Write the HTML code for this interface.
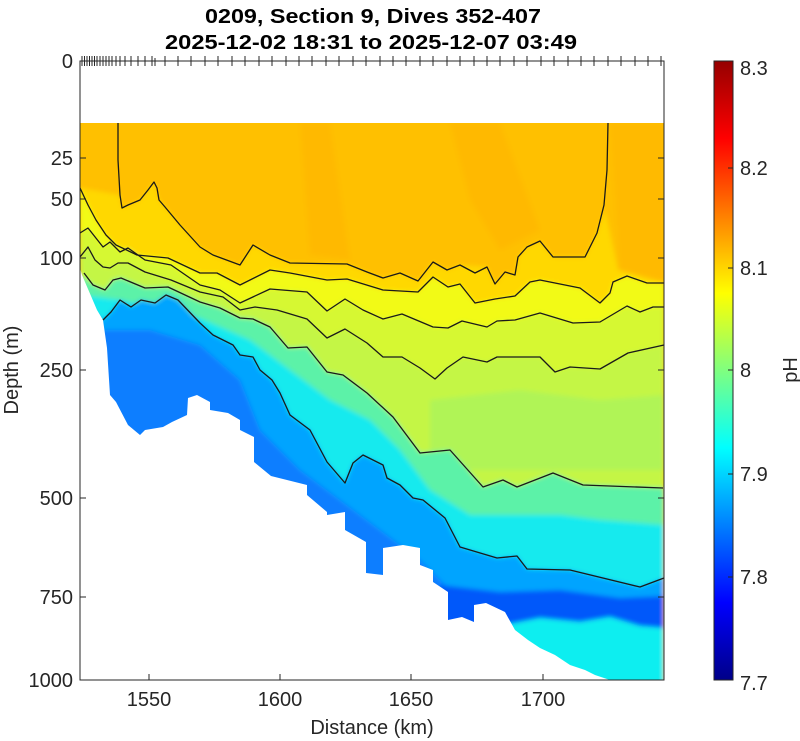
<!DOCTYPE html>
<html><head><meta charset="utf-8"><style>
html,body{margin:0;padding:0;background:#fff;}
svg{display:block;font-family:"Liberation Sans",Arial,sans-serif;}
</style></head><body>
<svg width="800" height="741" viewBox="0 0 800 741" xmlns="http://www.w3.org/2000/svg">
<defs>
<clipPath id="data"><polygon points="80,123 664,123 664,680 610,680 595,675 585,670 570,665 555,655 540,648 528,640 515,630 505,612 486,603 474,605 474,622 462,617 448,620 448,592 433,582 433,570 420,565 420,548 403,545 383,548 383,575 366,573 366,542 345,530 345,512 327,515 327,512 307,495 307,485 271,476 254,462 254,437 240,430 240,420 228,413 210,410 210,402 197,395 188,398 187,415 172,422 163,427 145,430 140,435 128,425 116,402 110,395 107,348 103,320 97,310 82,275 80,268"/></clipPath>
<filter id="bl" x="-5%" y="-5%" width="110%" height="110%"><feGaussianBlur stdDeviation="2.5"/></filter>
<linearGradient id="jet" x1="0" y1="1" x2="0" y2="0">
<stop offset="0" stop-color="#000088"/>
<stop offset="0.125" stop-color="#0000FF"/>
<stop offset="0.375" stop-color="#00FFFF"/>
<stop offset="0.625" stop-color="#FFFF00"/>
<stop offset="0.875" stop-color="#FF0000"/>
<stop offset="1" stop-color="#950000"/>
</linearGradient>
</defs>
<g clip-path="url(#data)">
<g filter="url(#bl)">
<rect x="70" y="110" width="610" height="600" fill="#FFC000"/>
<polygon fill="#FFB400" opacity="0.6" points="300,123 330,123 350,260 310,255"/>
<polygon fill="#FFB400" opacity="0.6" points="450,123 500,123 540,230 500,250 470,200"/>
<polygon fill="#FFB600" opacity="0.6" points="610,123 664,123 664,280 620,270"/>
<polygon fill="#FFD800" points="80,188 120,195 122,208 140,200 148,190 154,182 159,200 165,207 180,225 200,247 213,255 240,265 253,245 270,255 290,263 347,264 367,272 383,278 400,273 418,281 433,262 447,270 460,265 487,267 495,284 505,272 515,275 518,257 527,247 540,241 553,257 585,257 597,233 605,210 618,270 664,283 664,700 80,700"/>
<polygon fill="#F2FA14" points="80,188 88,205 96,220 106,235 116,245 137,255 168,258 200,273 217,273 240,285 270,270 290,273 327,280 347,279 383,290 418,292 433,277 448,287 460,284 475,303 495,299 515,296 530,282 540,280 580,288 600,303 610,293 613,282 627,276 647,283 664,283 664,700 80,700"/>
<polygon fill="#D6F832" points="80,233 88,228 103,247 110,242 120,252 128,248 145,260 171,265 200,285 220,290 240,303 270,289 307,292 327,311 345,299 363,310 383,319 402,314 433,327 448,328 462,321 487,327 497,321 515,320 540,313 573,323 600,322 627,306 640,312 653,307 664,307 664,700 80,700"/>
<polygon fill="#C4F645" points="80,257 88,247 95,260 103,267 110,268 118,263 128,263 145,272 171,280 200,292 223,297 240,310 255,307 277,310 307,319 327,338 345,329 367,343 383,357 402,357 420,368 435,379 447,368 463,357 487,362 497,357 540,357 555,372 570,367 600,369 628,353 664,345 664,700 80,700"/>
<polygon fill="#A8F460" opacity="0.7" points="430,400 520,390 600,400 664,395 664,470 430,470"/>
<polygon fill="#5CF2A8" points="80,275 93,285 105,290 113,280 121,278 145,288 168,287 200,302 220,308 240,318 253,319 270,327 288,348 307,347 327,372 343,375 367,393 393,417 420,453 450,450 483,487 503,480 517,487 553,473 583,485 663,488 664,488 664,700 80,700"/>
<polygon fill="#18EAEE" points="80,295 120,300 200,318 250,340 290,370 330,400 370,420 400,450 430,490 470,515 520,515 560,515 600,520 664,525 664,700 80,700"/>
<polygon fill="#00A4FF" points="80,300 103,320 111,312 120,300 131,307 141,300 155,303 166,295 178,300 200,323 213,335 233,345 240,355 253,357 260,370 272,380 280,393 290,415 310,430 327,462 345,483 353,463 363,455 383,465 387,478 400,485 413,498 423,500 445,518 460,547 497,558 517,556 527,569 570,570 640,587 664,578 664,700 80,700"/>
<polygon fill="#0A78FF" opacity="0.85" points="95,330 150,330 200,345 240,380 260,430 300,470 340,500 380,530 420,560 450,590 440,700 80,700"/>
<polygon fill="#0058FA" points="440,585 500,592 560,590 620,598 664,596 664,640 440,640"/>
<polygon fill="#0AEEF0" points="470,630 500,626 540,618 580,622 610,617 640,626 664,628 664,700 470,700"/>
</g>
</g>
<g fill="none" stroke="#1a1a1a" stroke-width="1.3" stroke-linejoin="round">
<polyline points="118,123 118,160 120,195 122,208 128,205 140,200 148,190 154,182 157,188 159,200 165,207 180,225 200,247 213,255 240,265 253,245 270,255 290,263 347,264 367,272 383,278 400,273 418,281 433,262 447,270 460,265 475,273 487,267 495,284 505,272 515,275 518,257 527,247 540,241 553,257 585,257 597,233 604,205 607,170 608,123"/>
<polyline points="80,188 88,205 96,220 106,235 116,245 137,255 168,258 200,273 217,273 240,285 270,270 290,273 327,280 347,279 383,290 418,292 433,277 448,287 460,284 475,303 495,299 515,296 530,282 540,280 580,288 600,303 610,293 613,282 627,276 647,283 664,283"/>
<polyline points="80,233 88,228 103,247 110,242 120,252 128,248 145,260 171,265 200,285 220,290 240,303 270,289 307,292 327,311 345,299 363,310 383,319 402,314 433,327 448,328 462,321 487,327 497,321 515,320 540,313 573,323 600,322 627,306 640,312 653,307 664,307"/>
<polyline points="80,257 88,247 95,260 103,267 110,268 118,263 128,263 145,272 171,280 200,292 223,297 240,310 255,307 277,310 307,319 327,338 345,329 367,343 383,357 402,357 420,368 435,379 447,368 463,357 487,362 497,357 540,357 555,372 570,367 600,369 628,353 664,345"/>
<polyline points="84,273 93,285 105,290 113,280 121,278 145,288 168,287 200,302 220,308 240,318 253,319 270,327 288,348 307,347 327,372 343,375 367,393 393,417 420,453 450,450 483,487 503,480 517,487 553,473 583,485 663,488"/>
<polyline points="103,320 111,312 120,300 131,307 141,300 155,303 166,295 178,300 200,323 213,335 233,345 240,355 253,357 260,370 272,380 280,393 290,415 310,430 327,462 345,483 353,463 363,455 383,465 387,478 400,485 413,498 423,500 445,518 460,547 497,558 517,556 527,569 570,570 640,587 664,578"/>
</g>
<rect x="80" y="61" width="584" height="619" fill="none" stroke="#262626" stroke-width="1"/>
<g stroke="#262626" stroke-width="1">
<line x1="80" y1="158" x2="86" y2="158"/><line x1="80" y1="199" x2="86" y2="199"/><line x1="80" y1="258" x2="86" y2="258"/><line x1="80" y1="370" x2="86" y2="370"/><line x1="80" y1="498" x2="86" y2="498"/><line x1="80" y1="597" x2="86" y2="597"/>
<line x1="658" y1="158" x2="664" y2="158"/><line x1="658" y1="199" x2="664" y2="199"/><line x1="658" y1="258" x2="664" y2="258"/><line x1="658" y1="370" x2="664" y2="370"/><line x1="658" y1="498" x2="664" y2="498"/><line x1="658" y1="597" x2="664" y2="597"/>
<line x1="149" y1="680" x2="149" y2="674"/><line x1="280" y1="680" x2="280" y2="674"/><line x1="411" y1="680" x2="411" y2="674"/><line x1="543" y1="680" x2="543" y2="674"/>
</g>
<g stroke="#262626" stroke-width="1">
<path d="M82,56V66M84.5,56V66M87,56V66M89.5,56V66M92,56V66M94.5,56V66M97,56V66M100,56V66M103,56V66M106,56V66M109,56V66M112,56V66M116,56V66M120,56V66M125,56V66M131,56V66M138,56V66M145,56V66M152,56V66M155,58V66M165,56V66M178,56V66M191,56V66M205,56V66M218,56V66M232,56V66M245,56V66M259,56V66M272,56V66M286,56V66M299,56V66M312,56V66M326,56V66M339,56V66M353,56V66M366,56V66M380,56V66M393,56V66M406,56V66M420,56V66M433,56V66M447,56V66M460,56V66M474,56V66M487,56V66M500,56V66M514,56V66M527,56V66M541,56V66M554,56V66M568,56V66M581,56V66M594,56V66M608,56V66M621,56V66M635,56V66M648,56V66M661,56V66"/>
</g>
<g font-size="20" fill="#262626" text-anchor="end">
<text x="73" y="68">0</text><text x="73" y="165">25</text><text x="73" y="206">50</text><text x="73" y="265">100</text><text x="73" y="377">250</text><text x="73" y="505">500</text><text x="73" y="604">750</text><text x="73" y="687">1000</text>
</g>
<g font-size="20" fill="#262626" text-anchor="middle">
<text x="149" y="706">1550</text><text x="280" y="706">1600</text><text x="411" y="706">1650</text><text x="543" y="706">1700</text>
<text x="372" y="734">Distance (km)</text>
<text transform="translate(18,370) rotate(-90)">Depth (m)</text>
</g>
<g font-size="20" font-weight="bold" fill="#000" text-anchor="middle">
<text x="373" y="23" textLength="336" lengthAdjust="spacingAndGlyphs">0209, Section 9, Dives 352-407</text>
<text x="371" y="49" textLength="412" lengthAdjust="spacingAndGlyphs">2025-12-02 18:31 to 2025-12-07 03:49</text>
</g>
<rect x="714" y="61" width="19" height="619" fill="url(#jet)" stroke="#262626" stroke-width="1"/>
<g stroke="#262626"><line x1="728" y1="168" x2="733" y2="168"/><line x1="728" y1="268" x2="733" y2="268"/><line x1="728" y1="370" x2="733" y2="370"/><line x1="728" y1="474" x2="733" y2="474"/><line x1="728" y1="577" x2="733" y2="577"/></g>
<g font-size="20" fill="#262626">
<text x="740" y="75">8.3</text><text x="740" y="175">8.2</text><text x="740" y="275">8.1</text><text x="740" y="377">8</text><text x="740" y="481">7.9</text><text x="740" y="584">7.8</text><text x="740" y="690">7.7</text>
<text transform="translate(797,370) rotate(-90)" text-anchor="middle">pH</text>
</g>
</svg>
</body></html>
